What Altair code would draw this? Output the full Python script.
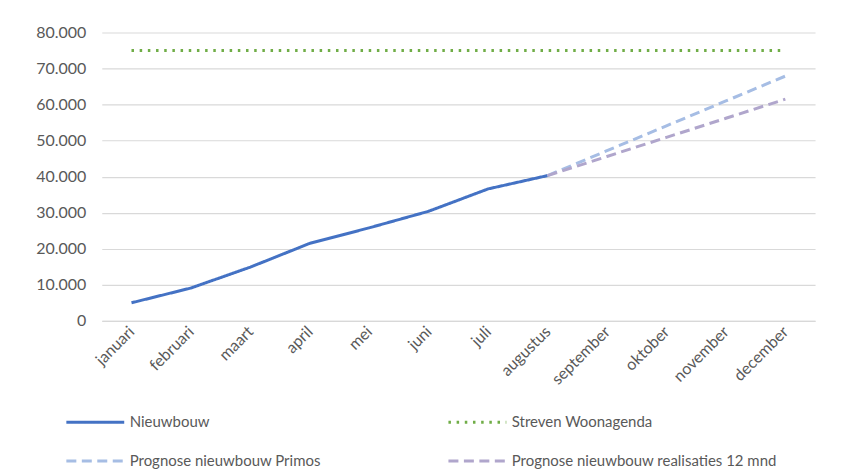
import altair as alt
import pandas as pd

months = ["januari", "februari", "maart", "april", "mei", "juni", "juli",
          "augustus", "september", "oktober", "november", "december"]
nieuwbouw = [5000, 9100, 14900, 21500, 25800, 30400, 36600, 40300]
streven = [75000] * 12
primos_months = ["augustus", "september", "oktober", "november", "december"]
primos = [40300, 47200, 54100, 61000, 67900]
realisaties = [40300, 45600, 50900, 56200, 61500]

series = ["Nieuwbouw", "Streven Woonagenda", "Prognose nieuwbouw Primos",
          "Prognose nieuwbouw realisaties 12 mnd"]
colors = ["#4472C4", "#70AD47", "#A6BDE4", "#B0A6CC"]
dashes = [[1, 0], [2.5, 5.7], [10, 5.5], [10, 5.5]]

rows = []
for m, v in zip(months, nieuwbouw):
    rows.append({"maand": m, "waarde": v, "reeks": series[0]})
for m, v in zip(months, streven):
    rows.append({"maand": m, "waarde": v, "reeks": series[1]})
for m, v in zip(primos_months, primos):
    rows.append({"maand": m, "waarde": v, "reeks": series[2]})
for m, v in zip(primos_months, realisaties):
    rows.append({"maand": m, "waarde": v, "reeks": series[3]})
df = pd.DataFrame(rows)

chart = alt.Chart(df).mark_line(strokeWidth=3, strokeCap="butt").encode(
    x=alt.X("maand:N", sort=months, title=None,
            scale=alt.Scale(type="point", padding=0.5),
            axis=alt.Axis(labelAngle=-45, labelAlign="right", labelBaseline="middle",
                          ticks=False, domain=True, domainColor="#D9D9D9",
                          labelPadding=8, labelFontSize=16, labelColor="#595959",
                          labelFont="Lato", grid=False)),
    y=alt.Y("waarde:Q", title=None,
            scale=alt.Scale(domain=[0, 80000], nice=False),
            axis=alt.Axis(values=[0, 10000, 20000, 30000, 40000, 50000, 60000, 70000, 80000],
                          labelExpr="replace(format(datum.value, ','), ',', '.')",
                          domain=False, ticks=False, labelPadding=16,
                          labelFontSize=16, labelColor="#595959", labelFont="Lato",
                          gridColor="#D9D9D9", gridWidth=1.2)),
    color=alt.Color("reeks:N", sort=series, title=None,
                    scale=alt.Scale(domain=series, range=colors)),
    strokeDash=alt.StrokeDash("reeks:N", sort=series, title=None,
                              scale=alt.Scale(domain=series, range=dashes)),
    order=alt.Order("maand_idx:Q"),
).transform_calculate(
    maand_idx="indexof(" + str(months) + ", datum.maand)"
).properties(
    width=715, height=289,
    autosize=alt.AutoSizeParams(type="none"),
    padding={"left": 94, "top": 24, "right": 20, "bottom": 155},
).configure_view(stroke=None).configure_legend(
    orient="none", legendX=-37, legendY=360, columns=2, direction="horizontal",
    symbolType="stroke", symbolSize=3364, symbolStrokeWidth=3,
    labelFontSize=15, labelFont="Lato", labelColor="#595959",
    labelOffset=4, columnPadding=121, rowPadding=-33, labelLimit=400,
)

chart.save("out.html", embed_options={"renderer": "svg", "actions": False})
